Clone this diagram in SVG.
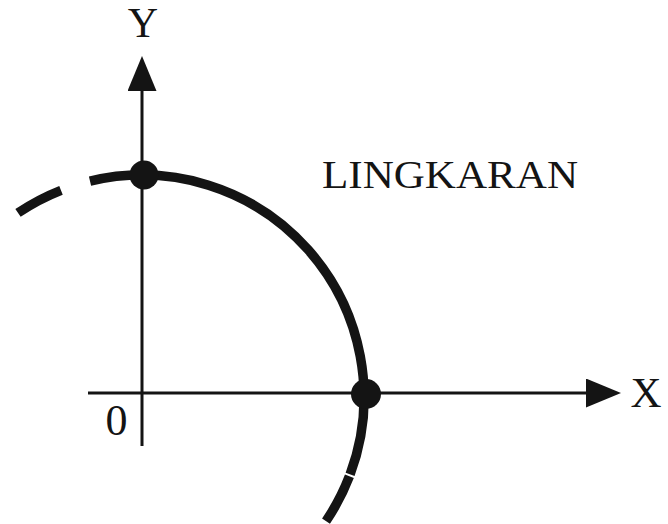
<svg xmlns="http://www.w3.org/2000/svg" width="668" height="524" viewBox="0 0 668 524">
  <style>
    .lbl { font-family: "Liberation Serif", "Times New Roman", serif; fill: #141414; }
    .axis { stroke: #141414; stroke-width: 3; fill: none; }
    .curve { stroke: #141414; stroke-width: 9.5; fill: none; stroke-linecap: butt; }
    .dot { fill: #141414; }
  </style>
  <defs>
    <marker id="arrow" markerUnits="userSpaceOnUse" markerWidth="36" markerHeight="30" refX="0" refY="14.5" orient="auto">
      <path d="M0,0 L35,14.5 L0,29 Z" fill="#141414"/>
    </marker>
  </defs>
  <rect width="668" height="524" fill="#ffffff"/>

  <g id="connectors">
    <line class="axis" x1="88" y1="393" x2="586" y2="393" marker-end="url(#arrow)"/>
    <line class="axis" x1="142" y1="446" x2="142" y2="91" marker-end="url(#arrow)"/>
  </g>

  <g id="circle-curve">
    <path class="curve" d="M18,212.9 A222,222 0 0 1 61,190.3"/>
    <path class="curve" d="M90,181.2 A222,222 0 0 1 350.1,474.4"/>
    <path class="curve" d="M349.4,476.3 A222,222 0 0 1 326,521.1"/>
  </g>

  <g id="point-y">
    <circle class="dot" cx="144" cy="175" r="14.5"/>
  </g>
  <g id="point-x">
    <circle class="dot" cx="366" cy="394" r="15"/>
  </g>

  <g id="label-y">
    <text class="lbl" x="143" y="37" font-size="42" text-anchor="middle">Y</text>
  </g>
  <g id="label-x">
    <text class="lbl" x="646" y="406.5" font-size="43" text-anchor="middle">X</text>
  </g>
  <g id="label-origin">
    <text class="lbl" x="116.5" y="435" font-size="44" text-anchor="middle">0</text>
  </g>
  <g id="label-lingkaran">
    <text class="lbl" x="322" y="188" font-size="40" textLength="256" lengthAdjust="spacingAndGlyphs">LINGKARAN</text>
  </g>
</svg>
